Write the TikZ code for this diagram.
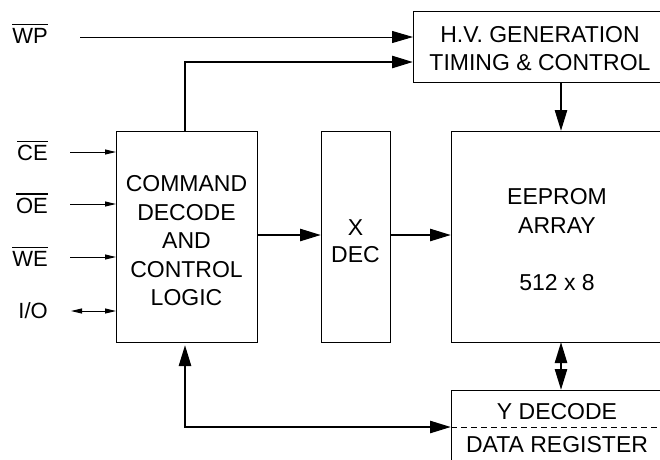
\documentclass[tikz,border=0pt]{standalone}
\usepackage{fontspec}
\setmainfont{Liberation Sans}
\usetikzlibrary{arrows.meta,calc}
\newcommand\ovl[1]{\leavevmode\vbox{\hrule height 1.2pt\kern 3pt\hbox{#1}}}
\begin{document}
\begin{tikzpicture}[x=1pt,y=-1pt,
  box/.style={draw, line width=0.9pt, anchor=north west, inner sep=0pt, outer sep=0pt},
  txt/.style={font=\fontsize{23}{28.5}\selectfont, align=center, inner sep=0pt},
  lbl/.style={font=\fontsize{22}{26}\selectfont, anchor=base east, inner sep=0pt},
  thinline/.style={line width=1pt},
  heavy/.style={line width=2.6pt},
  bigtip/.style={-{Triangle[length=21pt,width=12pt]}},
  bigboth/.style={{Triangle[length=21pt,width=12pt]}-{Triangle[length=21pt,width=12pt]}},
  smalltip/.style={-{Triangle[length=11pt,width=5pt]}},
  smallboth/.style={{Triangle[length=11pt,width=5pt]}-{Triangle[length=11pt,width=5pt]}},
  dashline/.style={line width=0.9pt, dash pattern=on 6pt off 4pt}
]
\useasboundingbox (0,0) rectangle (660,459);
\fill[white] (0,0) rectangle (660,459);

% boxes
\node[box, minimum width=141pt, minimum height=211pt] (cmd) at (116,131) {};
\node[box, minimum width=69pt, minimum height=211pt] (xdec) at (321,131) {};
\node[box, minimum width=212pt, minimum height=211pt] (eeprom) at (451,131) {};
\node[box, minimum width=250pt, minimum height=71pt] (hv) at (413,11) {};
\node[box, minimum width=212pt, minimum height=72pt] (ydec) at (451,390) {};

% texts
\node[txt] (cmdt) at (186.5,241) {COMMAND\\DECODE\\AND\\CONTROL\\LOGIC};
\node[txt, font=\fontsize{23}{27}\selectfont] (xdect) at (355.5,241.5) {X\\DEC};
\node[txt, font=\fontsize{23}{29}\selectfont] (eepromt) at (557,240) {EEPROM\\ARRAY\\[28pt]512 x 8};
\node[txt, font=\fontsize{23}{28}\selectfont] (hvt) at (540,49) {H.V. GENERATION\\TIMING \& CONTROL};
\node[txt] (ydect1) at (557,412) {Y DECODE};
\node[txt] (ydect2) at (557,445) {DATA REGISTER};

% labels
\node[lbl] (wpl) at (48,43) {\ovl{WP}};
\node[lbl] (cel) at (48,160.5) {\ovl{CE}};
\node[lbl] (oel) at (48,213) {\ovl{OE}};
\node[lbl] (wel) at (48,266) {\ovl{WE}};
\node[lbl] (iol) at (48,318.5) {I/O};

% helper coordinates
\coordinate (wps) at (80,37);
\coordinate (c2) at (185,62);
\coordinate (c3) at (0,235);
\coordinate (c4) at (561,0);
\coordinate (c5) at (185,427);
\coordinate (ce) at (70,152);
\coordinate (oe) at (70,204);
\coordinate (we) at (70,257);
\coordinate (io) at (71,311);

% connectors
\draw[thinline, bigtip] (wps) -- (wps -| hv.west);
\draw[heavy, bigtip] (cmd.north -| c2) |- (c2 -| hv.west);
\draw[heavy, bigtip] (c3 -| cmd.east) -- (c3 -| xdec.west);
\draw[heavy, bigtip] (c3 -| xdec.east) -- (c3 -| eeprom.west);
\draw[heavy, bigtip] (hv.south -| c4) -- (eeprom.north -| c4);
\draw[heavy, bigboth] (eeprom.south -| c4) -- (ydec.north -| c4);
\draw[heavy, bigboth, shorten >=3pt] (c5 -| ydec.west) -| (cmd.south -| c5);
\draw[dashline] (c5 -| ydec.west) -- (c5 -| ydec.east);

\draw[thinline, smalltip] (ce) -- (ce -| cmd.west);
\draw[thinline, smalltip] (oe) -- (oe -| cmd.west);
\draw[thinline, smalltip] (we) -- (we -| cmd.west);
\draw[thinline, smallboth] (io) -- (io -| cmd.west);
\end{tikzpicture}
\end{document}
